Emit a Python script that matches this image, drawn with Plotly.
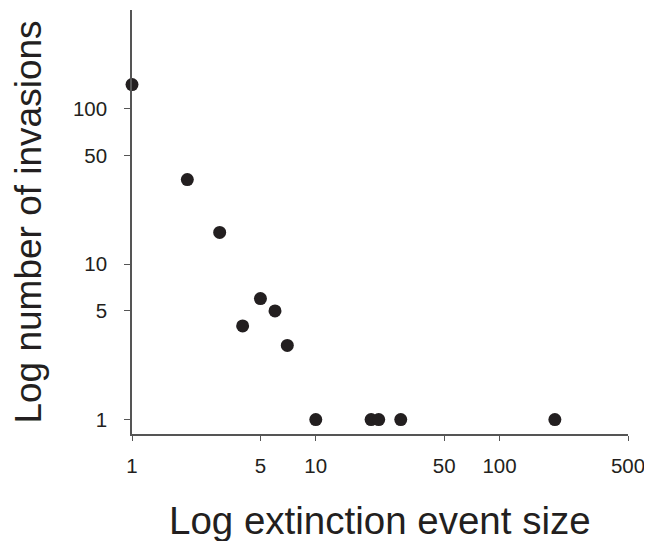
import plotly.graph_objects as go
import math

# Data
extinction_size = [1, 2, 3, 4, 5, 6, 7, 10, 20, 22, 29, 200]
n_invasions = [143, 35, 16, 4, 6, 5, 3, 1, 1, 1, 1, 1]

x_tickvals = [1, 5, 10, 50, 100, 500]
x_ticktext = ["1", "5", "10", "50", "100", "500"]
y_tickvals = [1, 5, 10, 50, 100]
y_ticktext = ["1", "5", "10", "50", "100"]

x_title = "Log extinction event size"
y_title = "Log number of invasions"

ink = "#231f20"
axis_col = "#555555"
font_family = "Liberation Sans, Arial, sans-serif"

fig = go.Figure()
fig.add_trace(go.Scatter(
    x=extinction_size, y=n_invasions, mode="markers",
    marker=dict(size=13, color=ink, line=dict(width=0)),
    cliponaxis=False, showlegend=False,
))

# the page body adds an 8px offset, so the figure is sized to fit the window
fig.update_layout(
    width=644, height=533,
    margin=dict(l=124, r=24, t=2, b=107),
    plot_bgcolor="white", paper_bgcolor="white",
    font=dict(family=font_family, color=ink),
    xaxis=dict(
        type="log", range=[0, math.log10(500)],
        tickvals=x_tickvals, ticktext=x_ticktext,
        ticks="outside", ticklen=5, tickwidth=1, tickcolor=axis_col,
        showline=True, linecolor=axis_col, linewidth=1.5,
        showgrid=False, zeroline=False,
        tickfont=dict(size=20.5, color=ink),
        ticklabelstandoff=8,
    ),
    yaxis=dict(
        type="log", range=[-0.093, 2.635],
        tickvals=y_tickvals, ticktext=y_ticktext,
        ticks="outside", ticklen=6, tickwidth=1, tickcolor=axis_col,
        showline=True, linecolor=axis_col, linewidth=1.5,
        showgrid=False, zeroline=False,
        tickfont=dict(size=20.5, color=ink),
        ticklabelstandoff=13,
        title=dict(text=y_title, standoff=27,
                   font=dict(size=37, color=ink, family=font_family)),
    ),
    annotations=[
        dict(text=x_title, xref="paper", yref="paper", x=0.5, y=0,
             xanchor="center", yanchor="top", yshift=-63, showarrow=False,
             font=dict(size=38.5, color=ink, family=font_family)),
    ],
)

fig.write_html("out.html")
